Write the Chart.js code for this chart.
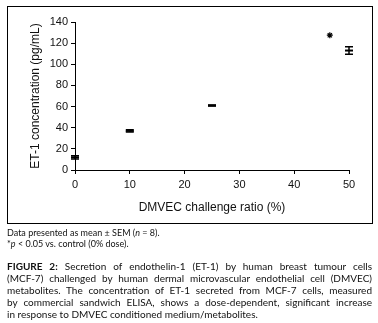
<!DOCTYPE html>
<html>
<head>
<meta charset="utf-8">
<script src="https://cdn.jsdelivr.net/npm/chart.js@4/dist/chart.umd.min.js"></script>
<style>
  html, body { margin: 0; padding: 0; background: #fff; }
  body { width: 378px; height: 323px; position: relative; overflow: hidden; }
  #wrap { position: absolute; left: 0; top: 0; width: 378px; height: 225px; }
  #frame { position: absolute; left: 7px; top: 6px; width: 366px; height: 218px; border: 1px solid #000; box-sizing: border-box; pointer-events: none; }
  .note { position: absolute; left: 7px; font-family: Lato, "Open Sans", sans-serif; font-size: 9px; color: #111; white-space: nowrap; }
  .cap { position: absolute; left: 7px; width: 365px; font-family: Lato, "Open Sans", sans-serif; font-size: 10px; color: #111; }
  .cap div { height: 12px; line-height: 12px; text-align: justify; text-align-last: justify; white-space: nowrap; }
  .cap div.last { text-align-last: left; }
</style>
</head>
<body>
<div id="wrap"><canvas id="c" width="378" height="225"></canvas></div>
<div id="frame"></div>
<div class="note" style="top:227px;">Data presented as mean ± SEM (<i>n</i> = 8).</div>
<div class="note" style="top:238px;">*<i>p</i> &lt; 0.05 vs. control (0% dose).</div>
<div class="cap" style="top:260px;">
  <div><b>FIGURE 2:</b> Secretion of endothelin-1 (ET-1) by human breast tumour cells</div>
  <div>(MCF-7) challenged by human dermal microvascular endothelial cell (DMVEC)</div>
  <div>metabolites. The concentration of ET-1 secreted from MCF-7 cells, measured</div>
  <div>by commercial sandwich ELISA, shows a dose-dependent, significant increase</div>
  <div class="last">in response to DMVEC conditioned medium/metabolites.</div>
</div>
<script>
// ---- data ----
const ratios = [0, 10, 25, 50];            // DMVEC challenge ratio (%)
const meanConc = [12, 37, 61, 113];        // ET-1 concentration (pg/mL)
const semConc = [1.5, 1, 0.4, 3.5];        // SEM
const sigX = [46.5];                       // asterisk marker position
const sigY = [127.5];
const xTickValues = [0, 10, 20, 30, 40, 50];
const yTickValues = [0, 20, 40, 60, 80, 100, 120, 140];

const errorBars = {
  id: 'errorBars',
  afterDatasetsDraw(chart) {
    const ctx = chart.ctx, xs = chart.scales.x, ys = chart.scales.y;
    ctx.save();
    ctx.strokeStyle = '#000';
    ctx.lineWidth = 1.5;
    ratios.forEach((r, i) => {
      const px = xs.getPixelForValue(r);
      const top = ys.getPixelForValue(meanConc[i] + semConc[i]);
      const bot = ys.getPixelForValue(meanConc[i] - semConc[i]);
      ctx.beginPath();
      ctx.moveTo(px, top); ctx.lineTo(px, bot);
      ctx.moveTo(px - 4, top); ctx.lineTo(px + 4, top);
      ctx.moveTo(px - 4, bot); ctx.lineTo(px + 4, bot);
      ctx.stroke();
    });
    ctx.restore();
  }
};

new Chart(document.getElementById('c'), {
  type: 'scatter',
  data: {
    datasets: [
      {
        data: ratios.map((r, i) => ({ x: r, y: meanConc[i] })),
        pointStyle: 'line', radius: 4, borderWidth: 2,
        borderColor: '#000', backgroundColor: '#000', clip: false
      },
      {
        data: sigX.map((x, i) => ({ x: x, y: sigY[i] })),
        pointStyle: 'star', radius: 3, borderWidth: 1.2,
        borderColor: '#000', backgroundColor: '#000', clip: false
      }
    ]
  },
  plugins: [errorBars],
  options: {
    responsive: false,
    animation: false,
    events: [],
    layout: { padding: { left: 8, right: 29, top: 22, bottom: 10 } },
    plugins: { legend: { display: false }, tooltip: { enabled: false } },
    scales: {
      x: {
        type: 'linear', min: 0, max: 50,
        afterBuildTicks: (s) => { s.ticks = xTickValues.map(v => ({ value: v })); },
        afterFit: (s) => { s.height = 45; },
        grid: { display: true, drawOnChartArea: false, drawTicks: true, tickLength: 4, color: '#000', lineWidth: 1 },
        border: { display: true, color: '#000', width: 1 },
        ticks: { color: '#111', font: { family: '"Liberation Sans", Arial, sans-serif', size: 11 }, padding: 4, maxRotation: 0 },
        title: { display: true, text: 'DMVEC challenge ratio (%)', color: '#111', font: { family: '"Liberation Sans", Arial, sans-serif', size: 12 }, padding: { top: 0, bottom: 0 } }
      },
      y: {
        type: 'linear', min: 0, max: 140,
        afterBuildTicks: (s) => { s.ticks = yTickValues.map(v => ({ value: v })); },
        afterFit: (s) => { s.width = 67; },
        grid: { display: true, drawOnChartArea: false, drawTicks: true, tickLength: 4, color: '#000', lineWidth: 1 },
        border: { display: true, color: '#000', width: 1 },
        ticks: { color: '#111', font: { family: '"Liberation Sans", Arial, sans-serif', size: 11 }, padding: 3 },
        title: { display: true, text: 'ET-1 concentration (pg/mL)', color: '#111', font: { family: '"Liberation Sans", Arial, sans-serif', size: 12 }, padding: { top: 20, bottom: 0 } }
      }
    }
  }
});
</script>
</body>
</html>
